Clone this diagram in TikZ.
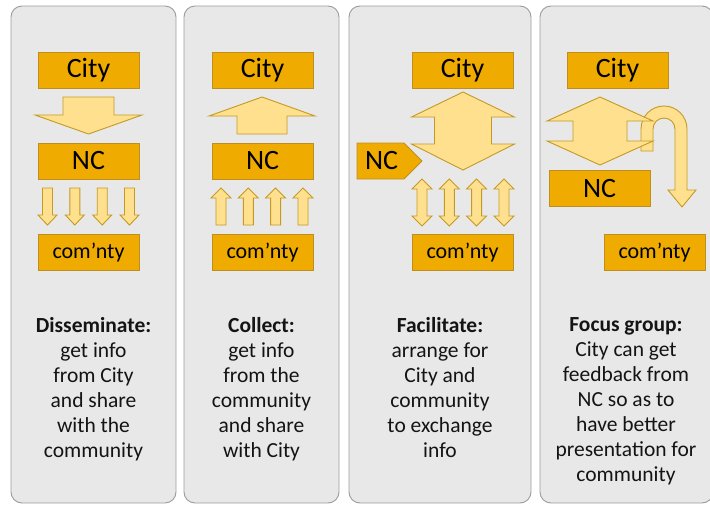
\documentclass[tikz,border=0pt]{standalone}
\usepackage{fontspec}
\setmainfont{Carlito}
\definecolor{panelfill}{HTML}{E8E8E8}
\definecolor{panelline}{HTML}{9C9C9C}
\definecolor{boxfill}{HTML}{F0AB00}
\definecolor{boxline}{HTML}{BE8E22}
\definecolor{arrowfill}{HTML}{FFE08F}
\definecolor{arrowline}{HTML}{C49A22}
\begin{document}
\begin{tikzpicture}[x=1pt,y=-1pt,
  panel/.style={draw=panelline, fill=panelfill, rounded corners=11pt, line width=0.9pt},
  gbox/.style={draw=boxline, fill=boxfill, line width=0.9pt, minimum width=101pt, minimum height=36pt, inner sep=0pt, font=\fontsize{28}{30}\selectfont},
  cbox/.style={gbox, font=\fontsize{22}{24}\selectfont},
  barrow/.style={draw=arrowline, fill=arrowfill, line width=0.9pt, line join=miter},
  desc/.style={anchor=north, align=center, inner sep=0pt, text=black!92, font=\fontsize{21.5}{25}\selectfont}]
\useasboundingbox (0,0) rectangle (710,504);
\fill[white] (0,0) rectangle (710,504);

% panels
\draw[panel] (11,6) rectangle (176,503);
\draw[panel] (184,6) rectangle (339,503);
\draw[panel] (349,6) rectangle (531,503);
\draw[panel] (540,6) rectangle (713,503);

% ---------- panel 1: disseminate
\node[gbox] (city1) at (88.5,70) {City};
\node[gbox] (nc1) at (88.5,161) {NC};
\node[cbox] (com1) at (88.5,252.5) {com’nty};
\draw[barrow] (63,97) -- (114,97) -- (114,115) -- (142,115) -- (88.5,134) -- (35,115) -- (63,115) -- cycle;
\foreach \c in {47.5,74.8,102.2,129.5}{
  \draw[barrow] (\c-5,188) -- (\c+5,188) -- (\c+5,215) -- (\c+9.5,215) -- (\c,225) -- (\c-9.5,215) -- (\c-5,215) -- cycle;
}

% ---------- panel 2: collect
\node[gbox] (city2) at (262.5,70) {City};
\node[gbox] (nc2) at (262.5,161) {NC};
\node[cbox] (com2) at (262.5,252.5) {com’nty};
\draw[barrow] (262,97) -- (315,116) -- (287,116) -- (287,134) -- (237,134) -- (237,116) -- (209,116) -- cycle;
\foreach \c in {221,248.3,275.6,303}{
  \draw[barrow] (\c,188) -- (\c+10,198) -- (\c+5,198) -- (\c+5,225) -- (\c-5,225) -- (\c-5,198) -- (\c-10,198) -- cycle;
}

% ---------- panel 3: facilitate
\node[gbox] (city3) at (462.5,70) {City};
\node[cbox] (com3) at (462.5,252.5) {com’nty};
\draw[barrow] (463,92) -- (514.5,117) -- (491.5,117) -- (491.5,144) -- (514.5,144) -- (463,170)
  -- (411.5,144) -- (434.5,144) -- (434.5,117) -- (411.5,117) -- cycle;
\foreach \c in {422,449.3,476.6,504}{
  \draw[barrow] (\c,179) -- (\c+10,189) -- (\c+5,189) -- (\c+5,216) -- (\c+10,216) -- (\c,226)
    -- (\c-10,216) -- (\c-5,216) -- (\c-5,189) -- (\c-10,189) -- cycle;
}
\draw[draw=boxline, fill=boxfill, line width=0.9pt, line join=miter]
  (357,143) -- (404,143) -- (422,161) -- (404,179) -- (357,179) -- cycle;
\node[font=\fontsize{28}{30}\selectfont, inner sep=0pt] (nc3) at (381.5,161) {NC};

% ---------- panel 4: focus group
\node[gbox] (city4) at (617.5,70) {City};
\node[gbox] (nc4) at (599.5,188.5) {NC};
\node[cbox] (com4) at (654.5,252.5) {com’nty};
\draw[barrow] (641,151) -- (641,129) arc[start angle=180, end angle=360, radius=23]
  -- (687,190) -- (696,190) -- (682,207) -- (668,190) -- (675,190) -- (675,129)
  arc[start angle=0, end angle=-180, radius=11] -- (653,151) -- cycle;
\draw[barrow] (600,97) -- (653,121) -- (627,121) -- (627,141) -- (653,141) -- (600,165)
  -- (547,141) -- (573,141) -- (573,121) -- (547,121) -- cycle;

% ---------- descriptions
\node[desc] (t1) at (93.5,317) {\textbf{Disseminate:}\\get info\\from City\\and share\\with the\\community};
\node[desc] (t2) at (261.5,317) {\textbf{Collect:}\\get info\\from the\\community\\and share\\with City};
\node[desc] (t3) at (440,317) {\textbf{Facilitate:}\\arrange for\\City and\\community\\to exchange\\info};
\node[desc] (t4) at (626,317) {\textbf{Focus group:}\\City can get\\feedback from\\NC so as to\\have better\\presentation for\\community};
\end{tikzpicture}
\end{document}
